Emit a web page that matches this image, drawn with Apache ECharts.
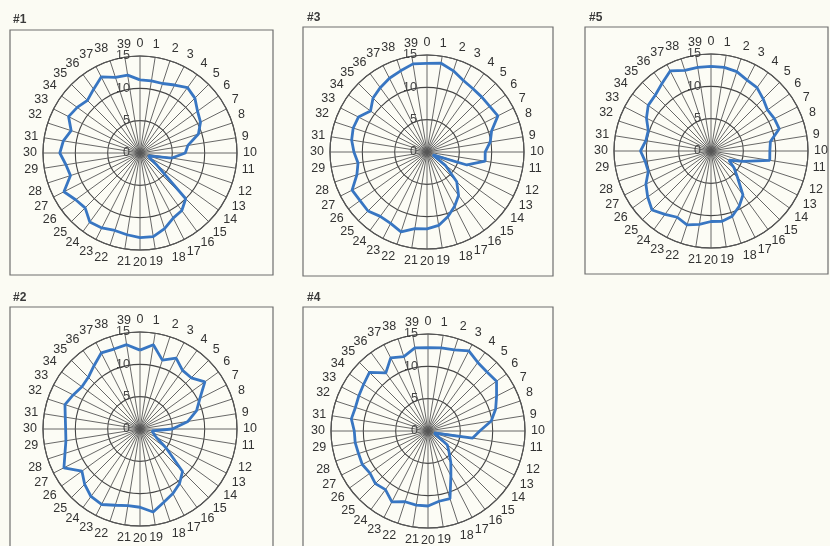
<!DOCTYPE html>
<html>
<head>
<meta charset="utf-8">
<script src="https://cdn.jsdelivr.net/npm/echarts@6/dist/echarts.min.js"></script>
<style>
  html, body { margin: 0; padding: 0; background: #fbfbf3; }
  #chart { width: 830px; height: 546px; }
</style>
</head>
<body>
<div id="chart"></div>
<script>
// Spoke categories 0..39 and radial ticks
const spokes = Array.from({ length: 40 }, (_, i) => String(i));
const radialTicks = [0, 5, 10, 15];

// Measured values per sample, one per spoke (0..39)
const sample1 = [11.3, 11.3, 11.3, 11.8, 12.5, 12.0, 11.0, 10.5, 9.5, 7.5, 7.0, 5.0, 1.4, 1.7, 3.3, 10.0, 11.0, 11.3, 12.3, 13.1,
                 13.1, 12.8, 12.6, 13.0, 13.2, 12.0, 12.3, 13.2, 11.3, 11.6, 12.4, 12.0, 11.2, 12.4, 12.0, 11.5, 12.2, 13.2, 12.3, 12.2];
const sample2 = [12.2, 13.2, 11.2, 12.3, 11.2, 11.2, 12.4, 10.4, 9.2, 7.5, 5.0, 1.9, 2.2, 2.8, 5.0, 9.3, 10.4, 11.2, 11.9, 13.0,
                 12.1, 12.0, 12.4, 13.1, 12.9, 12.1, 11.1, 13.2, 12.2, 11.6, 11.5, 11.7, 12.2, 11.6, 11.1, 11.3, 12.1, 13.2, 13.0, 13.2];
const sample3 = [13.7, 13.9, 13.2, 12.4, 12.1, 12.0, 12.0, 12.3, 10.5, 9.9, 9.0, 9.1, 6.5, 1.0, 3.5, 6.5, 8.3, 9.4, 10.5, 11.5,
                 11.9, 12.0, 13.0, 12.4, 12.3, 12.9, 12.8, 13.0, 11.4, 10.8, 11.3, 11.8, 12.0, 11.9, 10.8, 11.8, 12.3, 12.8, 13.2, 13.8];
const sample4 = [12.9, 13.0, 13.2, 13.9, 13.1, 12.9, 13.1, 11.9, 11.0, 9.9, 8.0, 7.0, 1.0, 1.0, 3.7, 4.6, 6.0, 7.8, 11.0, 11.0,
                 11.6, 11.6, 11.5, 12.3, 11.2, 11.5, 11.1, 11.4, 11.3, 11.4, 11.4, 12.0, 11.8, 12.0, 12.3, 12.8, 11.1, 12.7, 12.1, 13.0];
const sample5 = [13.1, 13.1, 12.9, 12.3, 12.1, 11.4, 10.8, 11.0, 11.1, 9.3, 9.1, 9.2, 5.2, 3.1, 4.4, 5.8, 8.4, 9.6, 10.6, 11.0,
                 10.9, 11.5, 12.0, 11.5, 12.1, 12.9, 12.1, 11.3, 10.2, 10.3, 10.9, 10.2, 10.2, 11.2, 12.0, 12.2, 12.9, 13.9, 13.1, 13.1];

const panels = [
  { title: '#1', values: sample1, center: [140, 153], box: [10, 30, 263, 245], titlePos: [8, 9] },
  { title: '#3', values: sample3, center: [427, 152], box: [303, 27, 250, 249], titlePos: [302, 7] },
  { title: '#5', values: sample5, center: [711, 151], box: [585, 27, 243, 247], titlePos: [584, 7] },
  { title: '#2', values: sample2, center: [140, 429], box: [10, 307, 263, 245], titlePos: [8, 287] },
  { title: '#4', values: sample4, center: [428, 431], box: [303, 307, 250, 245], titlePos: [302, 287] }
];

const RADIUS = 97;
const rMax = radialTicks[radialTicks.length - 1];
const rStep = radialTicks[1] - radialTicks[0];
const n = spokes.length;

const option = {
  backgroundColor: '#fbfbf3',
  animation: false,
  textStyle: { fontFamily: 'Liberation Sans, Arial, sans-serif' },
  title: panels.map(p => ({
    text: p.title, left: p.titlePos[0], top: p.titlePos[1],
    textStyle: { fontSize: 12, fontWeight: 'bold', color: '#3a3a3a' }
  })),
  graphic: panels.map(p => ({
    type: 'rect', z: -1, silent: true,
    shape: { x: p.box[0], y: p.box[1], width: p.box[2], height: p.box[3] },
    style: { fill: '#fcfcf5', stroke: '#6e6e6e', lineWidth: 1.2 }
  })),
  polar: panels.map(p => ({ center: p.center, radius: RADIUS })),
  angleAxis: panels.map((p, i) => ({
    polarIndex: i, type: 'value', min: 0, max: n, interval: 1,
    startAngle: 90, clockwise: true,
    axisLine: { show: true, lineStyle: { color: '#555', width: 1.1 } },
    axisTick: { show: false },
    splitLine: { show: true, lineStyle: { color: '#575757', width: 0.9 } },
    axisLabel: {
      margin: 6, fontSize: 12.5, color: '#333',
      formatter: v => (v < n ? spokes[v] : '')
    }
  })),
  radiusAxis: panels.map((p, i) => ({
    polarIndex: i, type: 'value', min: 0, max: rMax, interval: rStep,
    axisLine: { show: false }, axisTick: { show: false },
    splitLine: { show: true, lineStyle: { color: '#444', width: 1.1 } },
    axisLabel: { show: true, fontSize: 12.5, color: '#444', margin: 10 }
  })),
  series: panels.map((p, i) => ({
    type: 'line', coordinateSystem: 'polar', polarIndex: i,
    symbol: 'none', smooth: false,
    lineStyle: { color: '#3876c2', width: 2.8 },
    data: p.values.map((v, k) => [v, k]).concat([[p.values[0], n]])
  }))
};

echarts.init(document.getElementById('chart')).setOption(option);
</script>
</body>
</html>
